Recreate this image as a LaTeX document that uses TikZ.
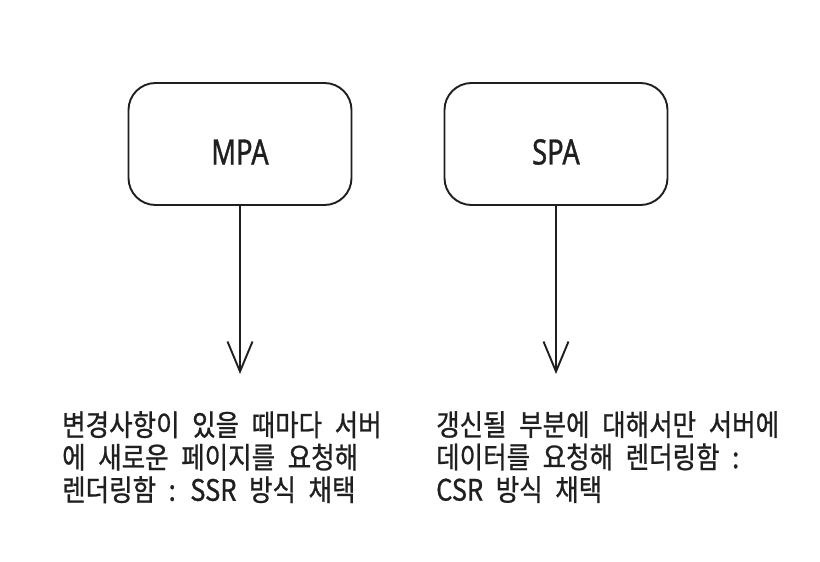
\documentclass[tikz,border=0pt]{standalone}
\usepackage{fontspec}
\usetikzlibrary{arrows.meta}
\newfontfamily\krfont[FakeStretch=0.865,WordSpace=2.2,FakeBold=0.8]{Noto Sans CJK KR}
\newfontfamily\titlefont[FakeStretch=0.78,FakeBold=1]{Noto Sans}
\tikzset{
  box/.style={draw=black!88, line width=1.9pt, rounded corners=27pt, minimum width=223pt, minimum height=122pt, inner sep=0pt},
  boxlabel/.style={font=\titlefont\fontsize{35}{38}\selectfont, text=black!88, yshift=-8pt},
  conn/.style={draw=black!88, line width=1.9pt, -{Straight Barb[length=30pt,width=25pt,line width=1.9pt]}},
  desc/.style={font=\krfont\fontsize{29.5}{32.5}\selectfont, text=black!88, align=left, inner sep=0pt, anchor=north west}
}
\begin{document}
\begin{tikzpicture}[x=1pt,y=-1pt]
\useasboundingbox[fill=white] (0,0) rectangle (820,562);
\node[box, label={[boxlabel]center:MPA}] (mpa) at (240,144) {};
\node[box, label={[boxlabel]center:SPA}] (spa) at (556,144) {};
\coordinate (mpaend) at (240,374);
\coordinate (spaend) at (556,374);
\draw[conn] (mpa.south) -- (mpaend);
\draw[conn] (spa.south) -- (spaend);
\node[desc] (mpadesc) at (62,411) {변경사항이 있을 때마다 서버\\에 새로운 페이지를 요청해\\렌더링함 : SSR 방식 채택};
\node[desc] (spadesc) at (436,411) {갱신될 부분에 대해서만 서버에\\데이터를 요청해 렌더링함 :\\CSR 방식 채택};
\end{tikzpicture}
\end{document}
